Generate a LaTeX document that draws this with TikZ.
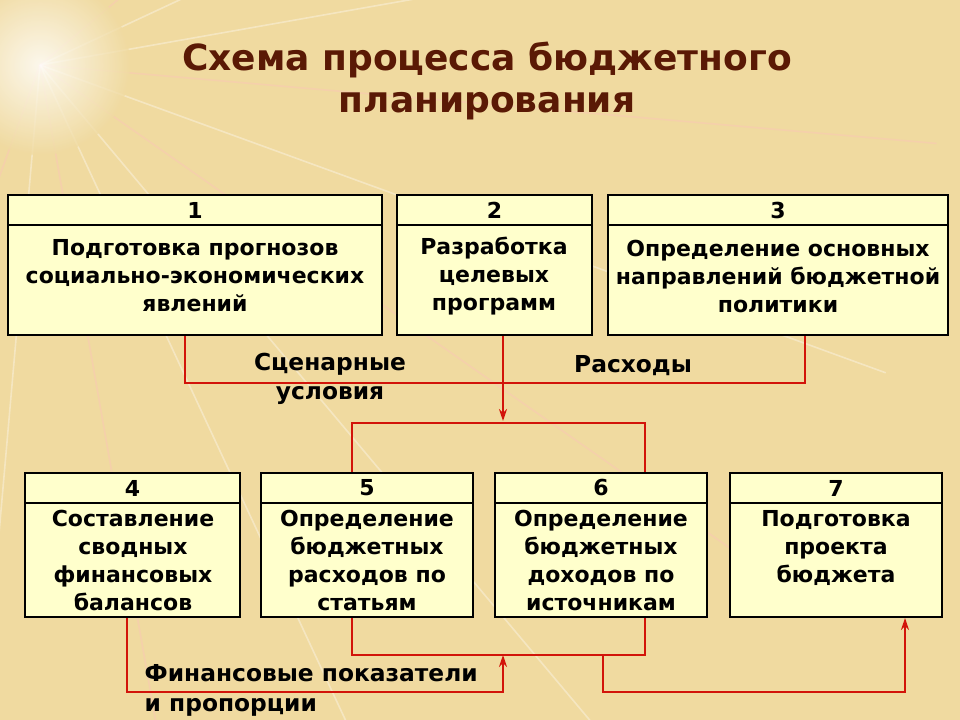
\documentclass[tikz,border=0pt]{standalone}
\usepackage{fontspec}
\setmainfont{DejaVu Sans}
\usetikzlibrary{arrows.meta}
\definecolor{bg}{RGB}{240,218,160}
\definecolor{boxf}{RGB}{255,255,204}
\definecolor{ttl}{RGB}{90,25,5}
\definecolor{lnk}{RGB}{210,20,10}
\begin{document}
\begin{tikzpicture}[x=0.75pt,y=-0.75pt,
  bx/.style={draw=black,line width=1.8pt,fill=boxf},
  txt/.style={font=\bfseries\fontsize{16.5}{21}\selectfont,align=center,text=black},
  lab/.style={font=\bfseries\fontsize{17.5}{22}\selectfont,text=black},
  ln/.style={draw=lnk,line width=1.7pt},
  arr/.style={ln,-{Stealth[length=9pt,width=6pt]}}]
\useasboundingbox (0,0) rectangle (960,720);
\begin{scope}
\clip (0,0) rectangle (960,720);
\fill[bg] (0,0) rectangle (960,720);
\foreach \a/\c in {-10/white,5/pink,20/white,35/pink,50/white,65/white,80/pink,-25/white,-40/pink,95/white,110/pink}{
  \draw[\c,opacity=0.35,line width=1.2pt] (40,65) -- ++(\a:900);}
\shade[inner color=white,outer color=bg,opacity=0.8] (40,65) circle (90);
\end{scope}
\node[font=\bfseries\fontsize{27}{32}\selectfont,text=ttl,align=center] (title) at (487,81) {Схема процесса бюджетного\\планирования};
% top boxes
\foreach \n/\l/\r in {1/8/382,2/397/592,3/608/948}{
  \draw[bx] (\l,195) rectangle (\r,225);
  \draw[bx] (\l,225) rectangle (\r,335);
  \node[txt] (h\n) at ({(\l+\r)/2},210) {\n};}
\node[txt] (b1) at (195,276) {Подготовка прогнозов\\социально-экономических\\явлений};
\node[txt] (b2) at (494,276) {Разработка\\целевых\\программ};
\node[txt] (b3) at (778,276) {Определение основных\\направлений бюджетной\\политики};
% bottom boxes
\foreach \n/\l/\r in {4/25/240,5/261/473,6/495/707,7/730/942}{
  \draw[bx] (\l,473) rectangle (\r,503);
  \draw[bx] (\l,503) rectangle (\r,617);
  \node[txt] (h\n) at ({(\l+\r)/2},488) {\n};}
\node[txt] (b4) at (133,560) {Составление\\сводных\\финансовых\\балансов};
\node[txt] (b5) at (367,560) {Определение\\бюджетных\\расходов по\\статьям};
\node[txt] (b6) at (601,560) {Определение\\бюджетных\\доходов по\\источникам};
\node[txt] (b7) at (836,548) {Подготовка\\проекта\\бюджета};
% connector coordinates
\coordinate (p1) at (185,336); \coordinate (p3) at (805,336);
\coordinate (p2) at (503,336); \coordinate (q2) at (503,421);
\coordinate (p5) at (352,472); \coordinate (p6) at (645,472);
\coordinate (d4) at (127,618); \coordinate (d5) at (352,618); \coordinate (d6) at (645,618);
\coordinate (u7) at (905,618); \coordinate (m) at (503,655); \coordinate (s) at (603,655);
\draw[ln] (p1) |- (805,383) -- (p3);
\draw[arr] (p2) -- (q2);
\draw[ln] (p5) |- (645,423) -- (p6);
\draw[ln] (d5) |- (645,655) -- (d6);
\draw[arr] (d4) |- (503,692) -- (m);
\draw[arr] (s) |- (905,692) -- (u7);
\node[lab,align=center] (l1) at (330,379) {Сценарные\\условия};
\node[lab] (l2) at (633,366) {Расходы};
\node[lab,align=left,anchor=north west] (l3) at (140,660) {Финансовые показатели\\и пропорции};
\end{tikzpicture}
\end{document}
